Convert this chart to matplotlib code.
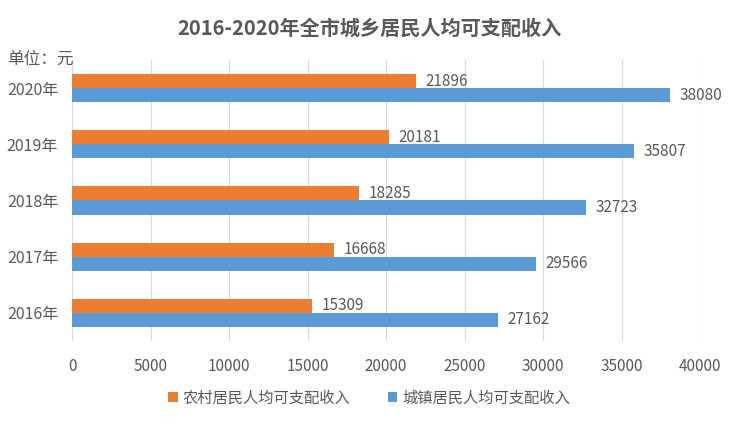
import numpy as np
import matplotlib
matplotlib.use("Agg")
import matplotlib.pyplot as plt

plt.rcParams['font.family'] = ['Noto Sans CJK SC', 'DejaVu Sans']

years = ["2016年", "2017年", "2018年", "2019年", "2020年"]
rural = [15309, 16668, 18285, 20181, 21896]
urban = [27162, 29566, 32723, 35807, 38080]
rural_name = "农村居民人均可支配收入"
urban_name = "城镇居民人均可支配收入"

grey = "#595959"
orange = "#ED7D31"
blue = "#5B9BD5"

fig = plt.figure(figsize=(7.38, 4.28), dpi=100)
ax = fig.add_axes([0.0976, 0.2033, 0.851, 0.6567])

y = np.arange(len(years))
h = 0.25
b1 = ax.barh(y + h / 2, rural, height=h, color=orange, label=rural_name, zorder=3)
b2 = ax.barh(y - h / 2, urban, height=h, color=blue, label=urban_name, zorder=3)

for bars, vals in ((b1, rural), (b2, urban)):
    for bar, v in zip(bars, vals):
        ax.text(v + 600, bar.get_y() + bar.get_height() / 2, str(v),
                va="center", ha="left", fontsize=11, color=grey)

ax.set_xlim(0, 40000)
ax.set_ylim(-0.5, 4.5)
ax.set_xticks(range(0, 40001, 5000))
ax.set_yticks(y)
ax.set_yticklabels(years)
ax.tick_params(axis="both", length=0, labelsize=11, colors=grey)
ax.tick_params(axis="x", pad=12)
ax.tick_params(axis="y", labelsize=11.5, pad=10)
ax.grid(axis="x", color="#D9D9D9", linewidth=0.8, zorder=0)
for s in ax.spines.values():
    s.set_visible(False)

fig.text(0.5, 0.935, "2016-2020年全市城乡居民人均可支配收入", ha="center", va="center",
         fontsize=14.5, fontweight="bold", color=grey)
fig.text(0.010, 0.862, "单位：元", ha="left", va="center", fontsize=12, color=grey)

fig.legend(handles=[b1, b2], loc="center", bbox_to_anchor=(0.5, 0.07), ncol=2,
           frameon=False, fontsize=11, labelcolor=grey, handlelength=0.6,
           handleheight=0.6, handletextpad=0.3, columnspacing=2.5)

fig.savefig("out.png", dpi=100)
